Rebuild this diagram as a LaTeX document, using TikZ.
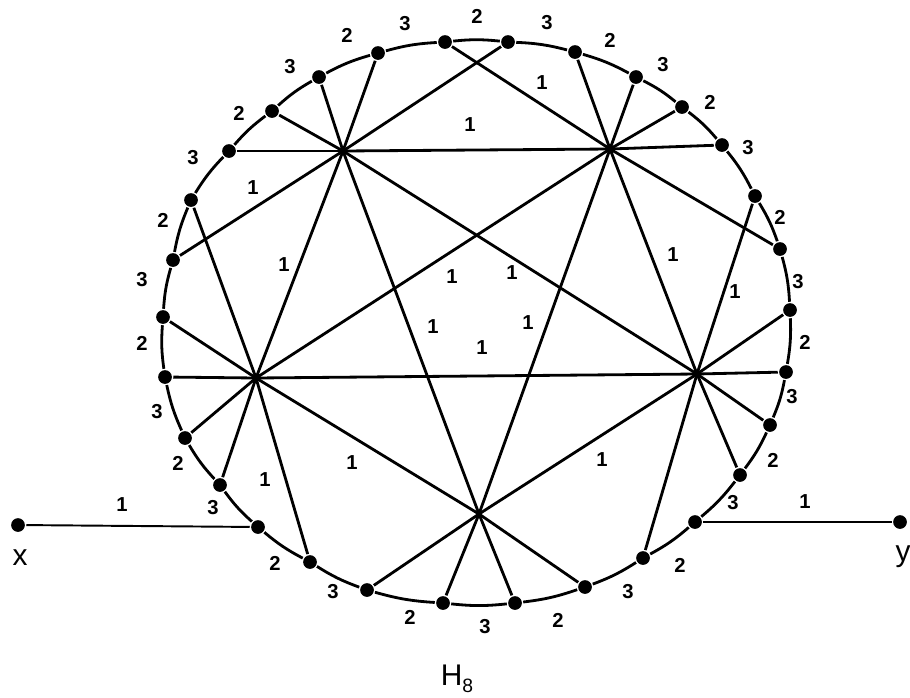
\documentclass[tikz,border=0pt]{standalone}
\usepackage{fontspec}
\setmainfont{Liberation Sans}
\tikzset{
  dot/.style={circle,fill=black,inner sep=0pt,minimum size=7.8pt},
  wt/.style={font=\fontsize{11.5}{13}\selectfont\bfseries,inner sep=0pt},
  endlbl/.style={font=\fontsize{17}{20}\selectfont,inner sep=0pt,anchor=base}
}
\begin{document}
\begin{tikzpicture}[x=0.02cm,y=-0.02cm,line width=1.6pt]
\useasboundingbox (0,0) rectangle (910,697);
% inner vertices (crossings only, no dots)
\coordinate (a) at (343,151);
\coordinate (b) at (610,149);
\coordinate (c) at (256,378);
\coordinate (d) at (697,374);
\coordinate (e) at (479,514);
% dots on the cycle, clockwise from the top
\foreach \x/\y [count=\i] in {445/42,508/42,575/52,636/77,682/107,722/145,755/196,780/249,790/310,786/372,
  770/425,740/475,695/522,643/558,585/587,515/603,443/603,367/590,310/562,258/527,
  220/485,185/438,165/377,163/317,173/260,191/200,229/151,272/111,319/77,378/53}
  \node[dot] (o\i) at (\x,\y) {};
% the cycle, arcs weighted 2 and 3
\foreach \t/\x/\y [count=\i] in {2/477/16,3/547/23,2/610/40,3/663/65,2/710/102,3/748/148,2/780/217,3/798/282,2/805/342,3/792/397,
  2/773/460,3/733/503,2/680/565,3/628/592,2/558/620,3/485/627,2/410/617,3/333/592,2/275/563,3/213/508,
  2/178/463,3/157/412,2/142/343,3/142/280,2/163/220,3/193/158,2/239/113,3/290/67,2/347/35,3/405/24}{
  \pgfmathtruncatemacro\j{mod(\i,30)+1}
  \draw (o\i) to[bend left=6] (o\j);
  \node[wt] (w\i) at (\x,\y) {\t};
}
% spokes to the cycle
\foreach \v/\list in {a/{2,30,29,28,27,25},b/{1,3,4,5,6,8},c/{26,24,23,22,21,19},d/{7,9,10,11,12,14},e/{15,16,17,18}}
  \foreach \k in \list \draw (\v) -- (o\k);
% K5 on the inner vertices
\foreach \p/\q in {a/b,a/c,a/d,a/e,b/c,b/d,b/e,c/d,c/e,d/e} \draw (\p) -- (\q);
% x and y
\node[dot] (x) at (18,525) {};
\node[dot] (y) at (900,522) {};
\draw[line width=1.1pt] (x) -- (o20);
\draw[line width=1.1pt] (o13) -- (y);
\node[endlbl] (xl) at (20,565) {x};
\node[endlbl] (yl) at (903,561) {y};
% weights 1
\foreach \x/\y [count=\k] in {122/505,805/502,470/125,542/83,253/188,284/265,673/255,735/292,
  452/277,512/273,433/327,528/323,482/348,265/480,352/463,602/460}
  \node[wt] (u\k) at (\x,\y) {1};
\node[endlbl] (name) at (457,685) {H\raisebox{-0.25em}{\fontsize{11}{13}\selectfont 8}};
\end{tikzpicture}
\end{document}
